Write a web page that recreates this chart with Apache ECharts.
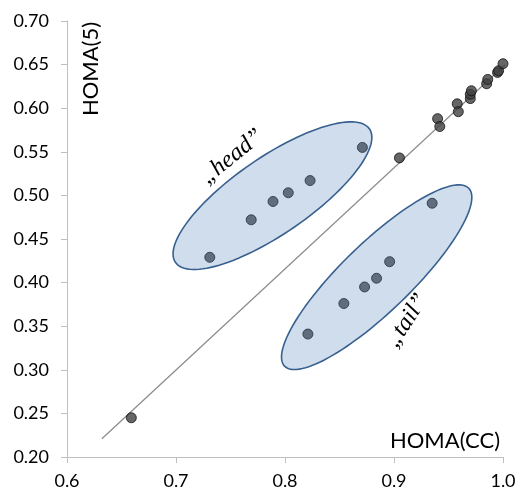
<!DOCTYPE html>
<html>
<head>
<meta charset="utf-8">
<script src="https://cdn.jsdelivr.net/npm/echarts@6/dist/echarts.min.js"></script>
<style>
  html, body { margin: 0; padding: 0; background: #fff; }
  #main { width: 519px; height: 495px; }
</style>
</head>
<body>
<div id="main"></div>
<script>
// tick labels
var xTickLabels = ['0.6', '0.7', '0.8', '0.9', '1.0'];
var yTickLabels = ['0.20', '0.25', '0.30', '0.35', '0.40', '0.45', '0.50', '0.55', '0.60', '0.65', '0.70'];

// points lying on the diagonal
var lineX = [0.659, 0.905, 0.940, 0.942, 0.958, 0.959, 0.970, 0.970, 0.971, 0.985, 0.986, 0.995, 0.996, 1.000];
var lineY = [0.245, 0.543, 0.588, 0.579, 0.605, 0.596, 0.611, 0.616, 0.620, 0.628, 0.633, 0.641, 0.643, 0.651];

// "head" group
var headX = [0.731, 0.769, 0.789, 0.803, 0.823, 0.871];
var headY = [0.429, 0.472, 0.493, 0.503, 0.517, 0.555];

// "tail" group
var tailX = [0.821, 0.854, 0.873, 0.884, 0.896, 0.935];
var tailY = [0.341, 0.376, 0.395, 0.405, 0.424, 0.491];

// reference line end points
var refX = [0.632, 1.015];
var refY = [0.221, 0.665];

function zip(xs, ys) {
  return xs.map(function (x, i) { return [x, ys[i]]; });
}

// ellipses outlining the groups (centre, major half-axis, minor half-axis, in data units)
var shapes = [
  { c: [0.7885, 0.4997], u: [0.0890, 0.0765], v: [0.0199, -0.0362] },
  { c: [0.8841, 0.4062], u: [0.0845, 0.1020], v: [0.0220, -0.0285] }
];
var notes = [
  { text: '\u201Ehead\u201D', at: [0.7514, 0.5444], rot: 39 },
  { text: '\u201Etail\u201D', at: [0.9119, 0.3563], rot: 57 }
];

var pointStyle = { color: '#404040', borderColor: '#111', borderWidth: 1 };

var myChart = echarts.init(document.getElementById('main'));

myChart.setOption({
  animation: false,
  textStyle: { fontFamily: 'Lato' },
  grid: { left: 67, right: 16, top: 21, bottom: 38, outerBoundsMode: 'none' },
  xAxis: {
    type: 'value', min: 0.6, max: 1.0, interval: 0.1,
    axisLine: { lineStyle: { color: '#bfbfbf' } },
    axisTick: { show: true, length: 6, lineStyle: { color: '#bfbfbf' } },
    splitLine: { show: false },
    axisLabel: {
      color: '#000', fontSize: 18, margin: 15,
      formatter: function (v) { return xTickLabels[Math.round((v - 0.6) / 0.1)]; }
    }
  },
  yAxis: {
    type: 'value', min: 0.2, max: 0.7, interval: 0.05,
    axisLine: { show: true, lineStyle: { color: '#bfbfbf' } },
    axisTick: { show: true, length: 6, lineStyle: { color: '#bfbfbf' } },
    splitLine: { show: false },
    axisLabel: {
      color: '#000', fontSize: 18, margin: 18,
      formatter: function (v) { return yTickLabels[Math.round((v - 0.2) / 0.05)]; }
    }
  },
  graphic: [
    { type: 'text', x: 91, y: 69, rotation: Math.PI / 2,
      style: { text: 'HOMA(5)', font: '22px Lato', fill: '#000', align: 'center', verticalAlign: 'middle' } },
    { type: 'text', x: 500, y: 441,
      style: { text: 'HOMA(CC)', font: '22px Lato', fill: '#000', align: 'right', verticalAlign: 'middle' } }
  ],
  series: [
    {
      type: 'line', data: zip(refX, refY), clip: false, symbol: 'none', z: 1,
      lineStyle: { color: '#8c8c8c', width: 1.3 }
    },
    { type: 'scatter', data: zip(lineX, lineY), symbolSize: 10, itemStyle: pointStyle, z: 2 },
    { type: 'scatter', data: zip(headX, headY), symbolSize: 10, itemStyle: pointStyle, z: 2 },
    { type: 'scatter', data: zip(tailX, tailY), symbolSize: 10, itemStyle: pointStyle, z: 2 },
    {
      type: 'custom', z: 3, silent: true,
      data: shapes.map(function (s) { return s.c; }),
      renderItem: function (params, api) {
        var s = shapes[params.dataIndex];
        var pts = [];
        for (var k = 0; k < 120; k++) {
          var t = k / 120 * Math.PI * 2;
          pts.push(api.coord([
            s.c[0] + Math.cos(t) * s.u[0] + Math.sin(t) * s.v[0],
            s.c[1] + Math.cos(t) * s.u[1] + Math.sin(t) * s.v[1]
          ]));
        }
        return {
          type: 'polygon', shape: { points: pts },
          style: { fill: 'rgba(79,129,189,0.27)', stroke: '#38608f', lineWidth: 1.6 }
        };
      }
    },
    {
      type: 'custom', z: 4, silent: true,
      data: notes.map(function (n) { return n.at; }),
      renderItem: function (params, api) {
        var n = notes[params.dataIndex];
        var p = api.coord(n.at);
        return {
          type: 'text', x: p[0], y: p[1], rotation: n.rot * Math.PI / 180,
          style: {
            text: n.text, font: 'italic 24px "Liberation Serif"', fill: '#000',
            align: 'center', verticalAlign: 'middle'
          }
        };
      }
    }
  ]
});
</script>
</body>
</html>
